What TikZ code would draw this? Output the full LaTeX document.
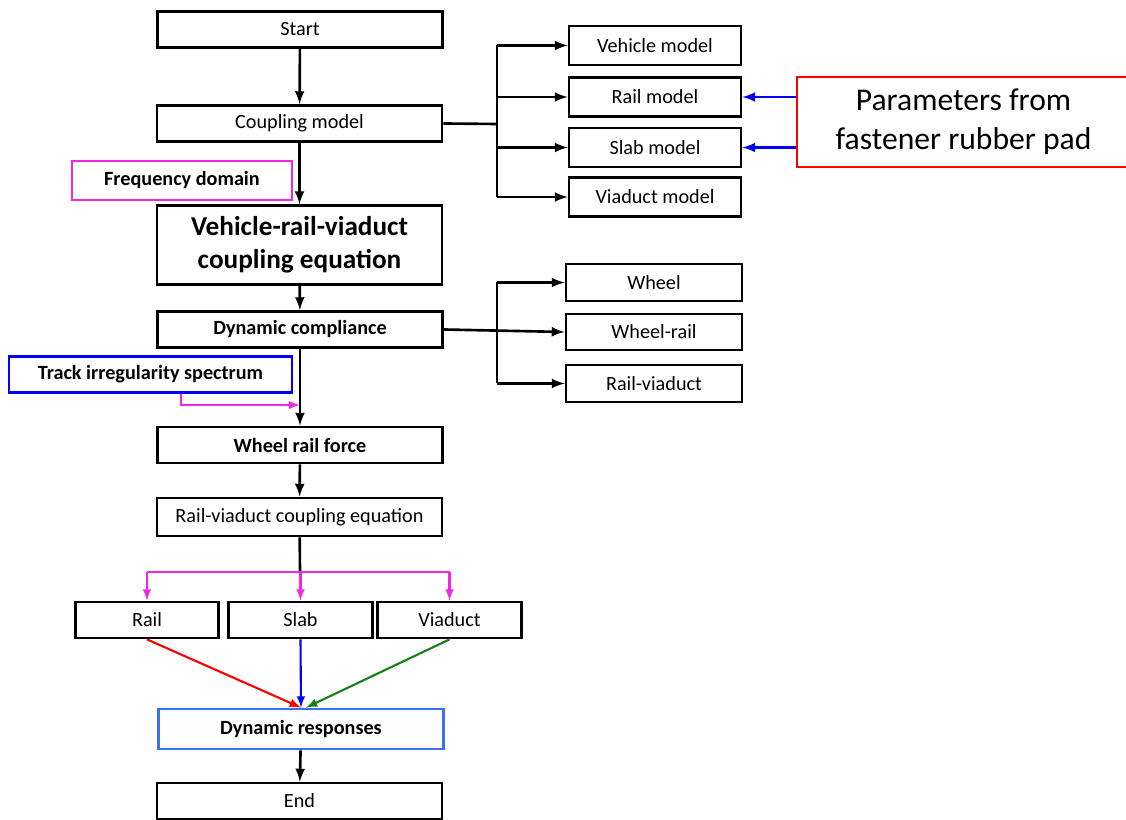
\documentclass[tikz,border=0pt]{standalone}
\usepackage{fontspec}
\setmainfont{Carlito}
\usetikzlibrary{positioning,arrows}

\definecolor{magen}{RGB}{240,40,230}
\definecolor{lblue}{RGB}{60,110,240}
\definecolor{dgreen}{RGB}{20,130,20}

\begin{document}
\begin{tikzpicture}[x=0.02cm,y=-0.02cm,
  mybox/.style={draw,line width=1.6pt,minimum width=5.7cm,minimum height=0.72cm,inner sep=0pt,font=\fontsize{11.5}{13}\selectfont},
  mybold/.style={mybox,font=\fontsize{11.5}{13}\selectfont\bfseries},
  mymodel/.style={mybox,minimum width=3.44cm,minimum height=0.78cm},
  mysmall/.style={mybox,minimum width=2.87cm},
  ln/.style={line width=1.5pt},
  arr/.style={ln,-latex},
  marr/.style={line width=1.2pt,magen,-latex}
]
\useasboundingbox (0,0) rectangle (1126,820);

% main column
\node[mybox] (start) at (300,29.5) {Start};
\node[mybox] (coup) at (299.5,123.5) {Coupling model};
\node[mybold,draw=magen,minimum width=4.4cm,minimum height=0.78cm] (freq) at (182,180.5) {Frequency domain};
\node[mybox,minimum height=1.58cm,align=center,font=\fontsize{15.5}{18.5}\selectfont\bfseries] (vrv) at (299.5,245) {Vehicle-rail-viaduct\\coupling equation};
\node[mybold] (dc) at (300,329.5) {Dynamic compliance};
\node[mybold,draw=blue,minimum width=5.66cm] (track) at (150.5,374.5) {Track irregularity spectrum};
\node[mybold] (wrf) at (300,445) {Wheel rail force};
\node[mybox,minimum height=0.76cm] (rvce) at (299.5,517) {Rail-viaduct coupling equation};
\node[mysmall] (rail) at (147,620) {Rail};
\node[mysmall] (slab) at (300.5,620) {Slab};
\node[mysmall] (viad) at (449.5,620) {Viaduct};
\node[mybold,draw=lblue,minimum height=0.8cm] (dr) at (301,729) {Dynamic responses};
\node[mybox] (end) at (299.5,801) {End};

% models
\node[mymodel] (veh) at (655,45.5) {Vehicle model};
\node[mymodel] (railm) at (655,97) {Rail model};
\node[mymodel] (slabm) at (655,147.5) {Slab model};
\node[mymodel] (viadm) at (655,197) {Viaduct model};
\node[draw=red,line width=1.6pt,minimum width=6.66cm,minimum height=1.8cm,align=center,
  font=\fontsize{18}{22}\selectfont] (params) at (963.5,122) {Parameters from\\fastener rubber pad};

% compliance
\node[mymodel,minimum width=3.52cm,minimum height=0.74cm] (wheel) at (654,282.5) {Wheel};
\node[mymodel,minimum width=3.52cm,minimum height=0.72cm] (wr) at (654,332) {Wheel-rail};
\node[mymodel,minimum width=3.52cm,minimum height=0.74cm] (rv) at (654,383.5) {Rail-viaduct};

\coordinate (b1) at (497,124);
\coordinate (b2) at (497,331);
\coordinate (tj) at (300,405);
\coordinate (b3) at (300,572);

\draw[arr] (start) -- (coup);
\draw[arr] (coup) -- (vrv);
\draw[arr] (vrv) -- (dc);
\draw[arr] (dc) -- (wrf);
\draw[arr] (wrf) -- (rvce);
\draw[arr] (dr) -- (end);

\draw[ln] (coup.east) -- (b1);
\draw[ln] (b1 |- veh.west) -- (b1 |- viadm.west);
\foreach \n in {veh,railm,slabm,viadm}
  \draw[arr] (b1 |- \n.west) -- (\n.west);
\draw[line width=1.5pt,blue,-latex] (params.west |- railm.east) -- (railm.east);
\draw[line width=1.5pt,blue,-latex] (params.west |- slabm.east) -- (slabm.east);

\draw[arr] (dc.east) -- (wr.west);
\draw[ln] (b2 |- wheel.west) -- (b2 |- rv.west);
\draw[arr] (b2 |- wheel.west) -- (wheel.west);
\draw[arr] (b2 |- rv.west) -- (rv.west);

\draw[marr] ([xshift=0.61cm]track.south) |- (tj);

\draw[ln] (rvce) -- (b3);
\draw[line width=1.2pt,magen] (b3 -| rail) -- (b3 -| viad);
\foreach \n in {rail,slab,viad}
  \draw[marr] (b3 -| \n) -- (\n.north);

\draw[line width=1.2pt,red,-latex] (rail.south) -- (dr.north);
\draw[line width=1.2pt,blue,-latex] (slab.south) -- (dr.north);
\draw[line width=1.2pt,dgreen,-latex] (viad.south) -- ([xshift=0.1cm]dr.north);
\end{tikzpicture}
\end{document}
